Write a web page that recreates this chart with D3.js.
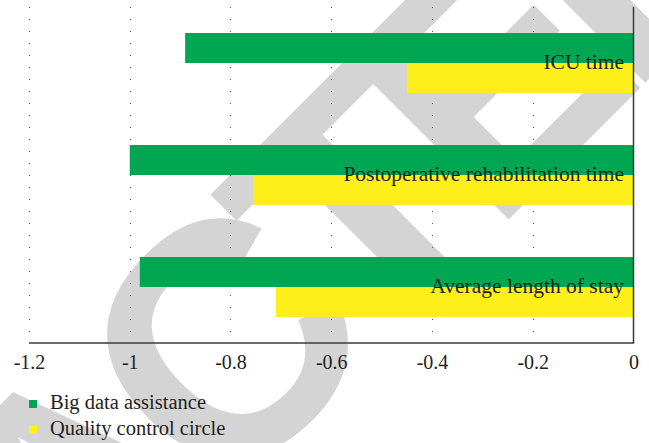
<!DOCTYPE html>
<html><head><meta charset="utf-8">
<script src="https://cdn.jsdelivr.net/npm/d3@7"></script>
<style>html,body{margin:0;padding:0;background:#fff;}svg{display:block;}</style>
</head><body>
<svg id="chart" width="649" height="443"></svg>
<script>
const categories = ["ICU time", "Postoperative rehabilitation time", "Average length of stay"];
const seriesNames = ["Big data assistance", "Quality control circle"];
const bigData = [-0.89, -1.0, -0.98];
const qualityCircle = [-0.45, -0.755, -0.71];
const tickValues = [-1.2, -1, -0.8, -0.6, -0.4, -0.2, 0];
const colors = ["#00a651", "#fdef1a"];

const W = 649, H = 443;
const plot = {left: 29, right: 633.5, top: 7, bottom: 343};
const svg = d3.select("#chart");
const serif = "'Liberation Serif', 'Times New Roman', serif";
const ink = "#231f20";

// watermark
const wmSize = 332, wmLs = -28;
const wm = svg.append("text").text("RETRACTED")
  .attr("font-family", "'Liberation Sans', Arial, sans-serif")
  .attr("font-weight", "bold").attr("font-size", wmSize)
  .attr("letter-spacing", wmLs)
  .attr("fill", "#d4d4d4").attr("x", 0).attr("y", 0);
const cStart = wm.node().getStartPositionOfChar(5);
const ccx = cStart.x + 0.36 * wmSize, ccy = -0.358 * wmSize;
wm.attr("transform", `translate(220,340) rotate(-45) translate(${-ccx},${-ccy})`);

const x = d3.scaleLinear().domain([-1.2, 0]).range([plot.left, plot.right]);
const y = d3.scaleBand().domain(categories).range([plot.top, plot.bottom])
  .paddingInner(52/112).paddingOuter(26/112);
const ys = d3.scaleBand().domain(seriesNames).range([0, y.bandwidth()]);

// gridlines
svg.append("g").selectAll("line").data(tickValues.filter(d => d < 0)).join("line")
  .attr("x1", d => Math.round(x(d)) + 0.5).attr("x2", d => Math.round(x(d)) + 0.5)
  .attr("y1", plot.top).attr("y2", plot.bottom)
  .attr("stroke", "#555").attr("stroke-width", 1).attr("stroke-dasharray", "1 11");

const rows = categories.map((c, i) => ({cat: c, vals: [bigData[i], qualityCircle[i]]}));
const g = svg.append("g");
rows.forEach(r => {
  r.vals.forEach((v, j) => {
    g.append("rect")
      .attr("x", x(v)).attr("width", x(0) - x(v))
      .attr("y", y(r.cat) + ys(seriesNames[j])).attr("height", ys.bandwidth())
      .attr("fill", colors[j]);
  });
});

// category labels
svg.append("g").selectAll("text").data(categories).join("text")
  .attr("x", plot.right - 9.5).attr("y", d => y(d) + y.bandwidth() / 2 + 5.5)
  .attr("text-anchor", "end").attr("font-family", serif).attr("font-size", 21.5)
  .attr("fill", ink).text(d => d);

// axes
const xAxis = d3.axisBottom(x).tickValues(tickValues).tickSize(0).tickPadding(12)
  .tickFormat(d => d3.format("")(d).replace("−", "-"));
const ax = svg.append("g").attr("transform", `translate(0,${plot.bottom})`).call(xAxis);
ax.select(".domain").remove();
ax.selectAll("text").attr("font-family", serif).attr("font-size", 20).attr("fill", ink);
svg.append("line").attr("x1", plot.left).attr("x2", plot.right + 0.75)
  .attr("y1", plot.bottom).attr("y2", plot.bottom).attr("stroke", "#3a3a3a").attr("stroke-width", 1.5);
svg.append("line").attr("x1", plot.right).attr("x2", plot.right)
  .attr("y1", plot.top).attr("y2", plot.bottom).attr("stroke", "#3a3a3a").attr("stroke-width", 1.5);

// legend
const lg = svg.append("g").selectAll("g").data(seriesNames).join("g")
  .attr("transform", (d, i) => `translate(29,${400 + i * 26})`);
lg.append("rect").attr("width", 8).attr("height", 8).attr("fill", (d, i) => colors[i]);
lg.append("text").attr("x", 21).attr("y", 8.5).attr("font-family", serif)
  .attr("font-size", 20.5).attr("fill", ink).text(d => d);
</script>
</body></html>
